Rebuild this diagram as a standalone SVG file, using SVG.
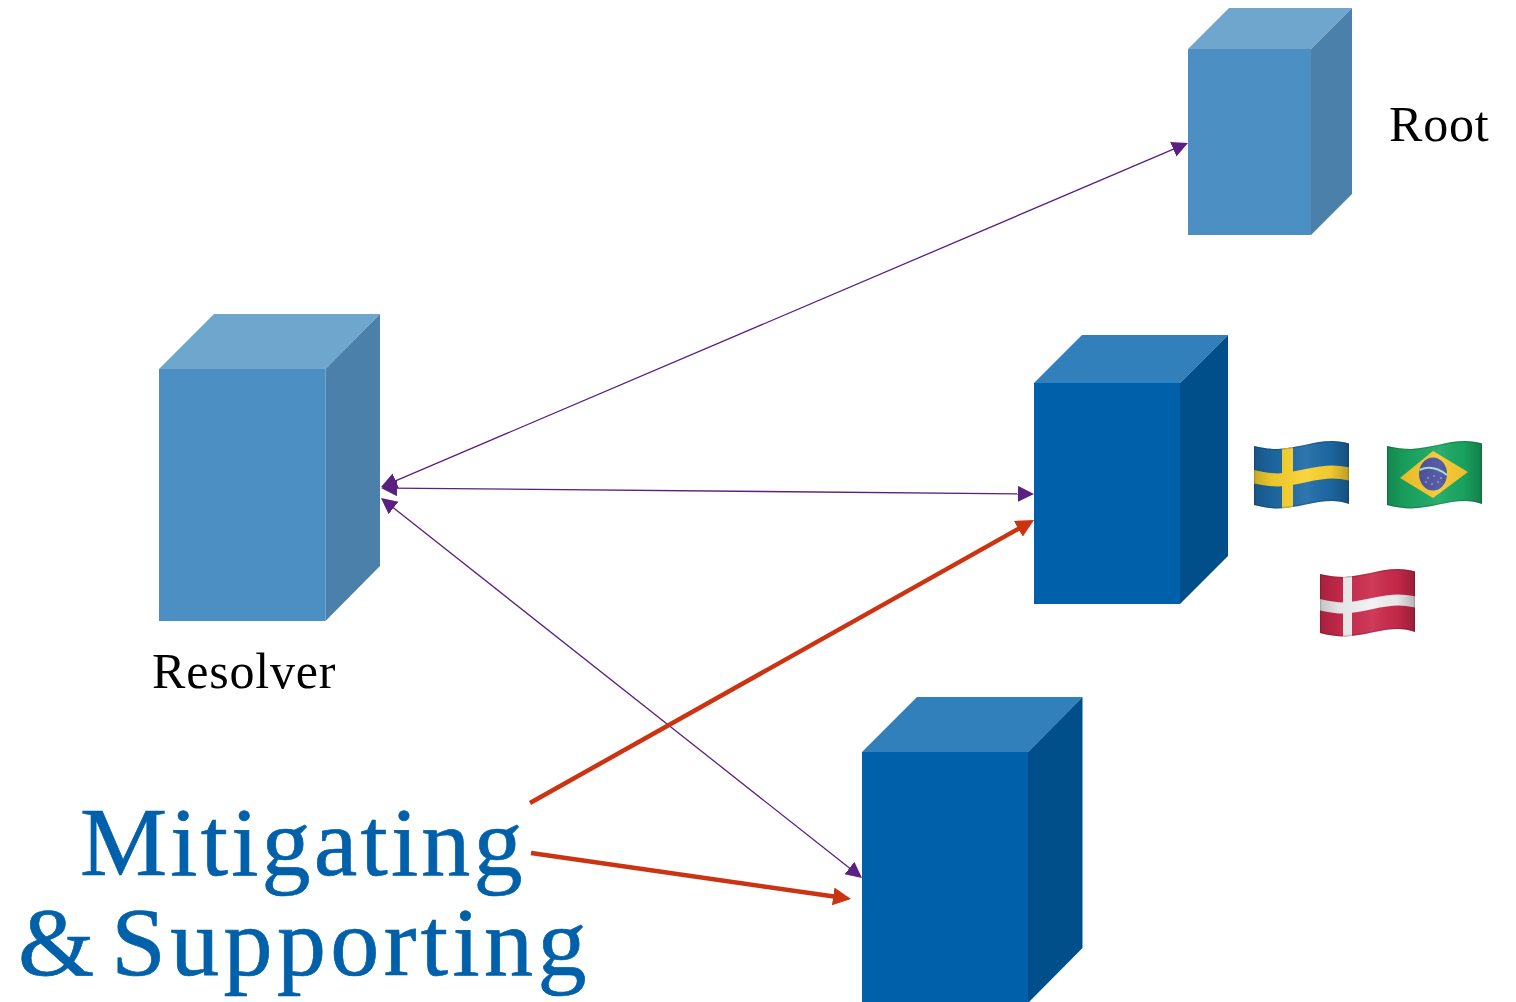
<svg xmlns="http://www.w3.org/2000/svg" width="1516" height="1002" viewBox="0 0 1516 1002">
<style>
.lf{fill:#4b8fc3}.lt{fill:#6fa6ce}.ls{fill:#4a80a9}
.df{fill:#0060a9}.dt{fill:#3180bb}.ds{fill:#004f8b}
.p{stroke:#5b1f82;stroke-width:1.3;fill:none;marker-start:url(#pa);marker-end:url(#pa)}
.r{stroke:#cc3311;stroke-width:4.5;fill:none;marker-end:url(#ra)}
text{font-family:"Liberation Serif","Times New Roman",serif}
.k{font-size:50px;fill:#000;letter-spacing:.8px}
.b{font-size:98px;fill:#0060a9;stroke:#0060a9;stroke-width:.7;letter-spacing:3.2px;word-spacing:-13.900px}
.sp{letter-spacing:4.4px}
.sh{fill:url(#sh)}
.ed{fill:none;stroke:#000;stroke-opacity:.14;stroke-width:2.500}
</style>
<defs>
<marker id="pa" markerUnits="userSpaceOnUse" markerWidth="18" markerHeight="18" refX="6" refY="8" orient="auto-start-reverse"><path d="M0 0L16 8L0 16Z" fill="#5b1f82"/></marker>
<marker id="ra" markerUnits="userSpaceOnUse" markerWidth="20" markerHeight="20" refX="8" refY="9" orient="auto"><path d="M0 0L18 9L0 18Z" fill="#cc3311"/></marker>
<path id="w" d="M0 5C8 7 17 8 24 8C44 7 60 0 78 0C84 0 90 1 95 2.500L95 63C90 61 84 60 78 60C60 60 44 67 24 67.500C17 67.500 8 66 0 64Z"/>
<clipPath id="fc"><use href="#w"/></clipPath>
<linearGradient id="sh" x1="0" x2="1" y1="0" y2="0">
<stop offset="0" stop-color="#000" stop-opacity=".2"/><stop offset=".2" stop-color="#000" stop-opacity=".06"/><stop offset=".55" stop-color="#fff" stop-opacity=".08"/><stop offset=".8" stop-color="#000" stop-opacity=".04"/><stop offset="1" stop-color="#000" stop-opacity=".26"/>
</linearGradient>
</defs>

<g id="connectors">
<line class="p" x1="390.200" y1="483.100" x2="1178.800" y2="146.900"/>
<line class="p" x1="391" y1="488.100" x2="1024" y2="493.900"/>
<line class="p" x1="388.850" y1="504.200" x2="854.150" y2="871.800"/>
<line class="r" x1="530" y1="803" x2="1025.300" y2="524.900"/>
<line class="r" x1="531" y1="853" x2="841.100" y2="897.600"/>
</g>

<g id="root-server">
<path class="lt" d="M1188 49L1229 8H1352L1311 49Z"/><path class="ls" d="M1311 49L1352 8V194L1311 235Z"/><rect class="lf" x="1188" y="49" width="123" height="186"/>
<text class="k" x="1389" y="141">Root</text>
</g>
<g id="resolver">
<path class="lt" d="M159 369L214 314H380L325.500 369Z"/><path class="ls" d="M325.500 369L380 314V566L325.500 621Z"/><rect class="lf" x="159" y="369" width="166.500" height="252"/>
<text class="k" x="152" y="688">Resolver</text>
</g>
<g id="tld-server">
<path class="dt" d="M1034 383L1082 335H1228L1180 383Z"/><path class="ds" d="M1180 383L1228 335V556L1180 604Z"/><rect class="df" x="1034" y="383" width="146" height="221"/>
</g>
<g id="lower-server">
<path class="dt" d="M862 752L917 697H1082.500L1028 752Z"/><path class="ds" d="M1028 752L1082.500 697V948L1028 1003Z"/><rect class="df" x="862" y="752" width="166" height="251"/>
</g>

<g id="flag-se" transform="translate(1254 441)">
<g clip-path="url(#fc)">
<rect x="-1" y="-1" width="97" height="70" fill="#1d6aa6"/>
<rect x="28" y="-1" width="11" height="70" fill="#fad22e"/>
<path d="M-5 34.500C8 38 17 39 24 39C44 38 60 31 78 31C84 31 90 31.500 100 34" fill="none" stroke="#fad22e" stroke-width="13"/>
<rect class="sh" x="-1" y="-1" width="97" height="70"/>
<use href="#w" class="ed"/>
</g>
</g>
<g id="flag-br" transform="translate(1387 441)">
<g clip-path="url(#fc)">
<rect x="-1" y="-1" width="97" height="70" fill="#1aa862"/>
<path d="M13 37L46 10L81 31L46 57Z" fill="#f8c82e"/>
<ellipse cx="46" cy="33" rx="14" ry="16.500" fill="#4a4f9f"/>
<path d="M32.500 29C41 25 51 27 60 34" fill="none" stroke="#a8e0c8" stroke-width="2"/>
<g fill="#dde"><circle cx="41" cy="37" r=".7"/><circle cx="47" cy="35" r=".7"/><circle cx="51" cy="41" r=".7"/><circle cx="45" cy="43" r=".7"/><circle cx="39" cy="41" r=".7"/><circle cx="54" cy="37" r=".7"/></g>
<rect class="sh" x="-1" y="-1" width="97" height="70"/>
<use href="#w" class="ed"/>
</g>
</g>
<g id="flag-dk" transform="translate(1320 569)">
<g clip-path="url(#fc)">
<rect x="-1" y="-1" width="97" height="70" fill="#cc2a4c"/>
<rect x="23" y="-1" width="9" height="70" fill="#f2f2f2"/>
<path d="M-5 34.500C8 38 17 39 24 39C44 38 60 31 78 31C84 31 90 31.500 100 34" fill="none" stroke="#f2f2f2" stroke-width="11"/>
<rect class="sh" x="-1" y="-1" width="97" height="70"/>
<use href="#w" class="ed"/>
</g>
</g>

<g id="caption">
<text class="b" x="80" y="875">Mitigating</text>
<text class="b" x="18" y="975">&amp; <tspan class="sp">Supporting</tspan></text>
</g>
</svg>
